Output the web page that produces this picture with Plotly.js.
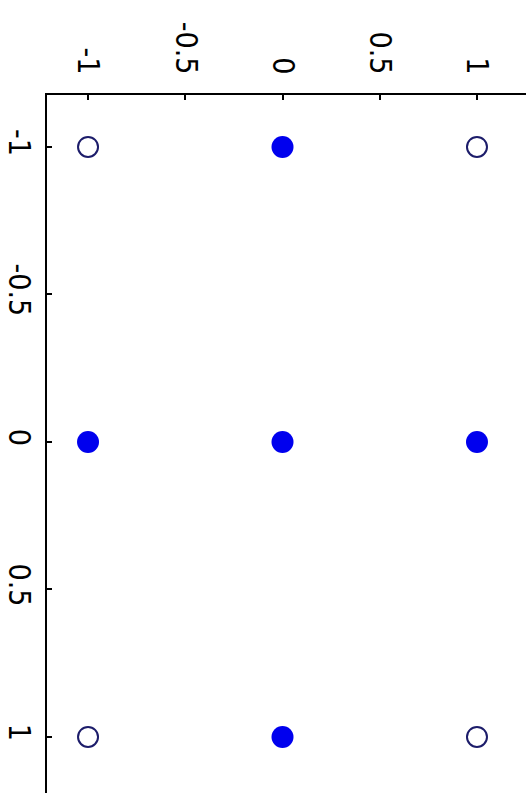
<!DOCTYPE html>
<html>
<head>
<meta charset="utf-8">
<script src="https://cdn.plot.ly/plotly-3.0.1.min.js"></script>
<style>html,body{margin:0;padding:0;background:#fff;}#chart{width:526px;height:793px;}</style>
</head>
<body>
<div id="chart"></div>
<script>
// Data
const filledX = [0, -1, 0, 1, 0];
const filledY = [-1, 0, 0, 0, 1];
const openX = [-1, 1, -1, 1];
const openY = [-1, -1, 1, 1];
const tickVals = [-1, -0.5, 0, 0.5, 1];
const tickText = ['-1', '-0.5', '0', '0.5', '1'];

const traces = [
  {x: filledX, y: filledY, type: 'scatter', mode: 'markers',
   marker: {size: 22, color: '#0000ee', line: {width: 0}}, hoverinfo: 'skip'},
  {x: openX, y: openY, type: 'scatter', mode: 'markers',
   marker: {size: 20, color: '#ffffff', line: {width: 2, color: '#1c1c6a'}}, hoverinfo: 'skip'}
];

const tickFont = {family: '"DejaVu Sans Condensed", "Liberation Sans Narrow", sans-serif', size: 30, color: '#000'};

const layout = {
  width: 526, height: 793,
  margin: {l: 47, r: 0, t: 95, b: 0, pad: 0},
  paper_bgcolor: '#ffffff', plot_bgcolor: '#ffffff',
  showlegend: false,
  xaxis: {side: 'top', range: [-1.211, 1.252], tickvals: tickVals, ticktext: tickText,
    tickangle: 90, ticks: 'inside', ticklen: 5, tickwidth: 2, tickcolor: '#000',
    showline: true, linecolor: '#000', linewidth: 2, mirror: false,
    showgrid: false, zeroline: false, tickfont: tickFont, ticklabelstandoff: 8},
  yaxis: {range: [1.19, -1.176], tickvals: tickVals, ticktext: tickText,
    tickangle: 90, ticks: 'inside', ticklen: 5, tickwidth: 2, tickcolor: '#000',
    showline: true, linecolor: '#000', linewidth: 2, mirror: false,
    showgrid: false, zeroline: false, tickfont: tickFont, ticklabelstandoff: 0}
};

Plotly.newPlot('chart', traces, layout, {displayModeBar: false, staticPlot: true});
</script>
</body>
</html>
